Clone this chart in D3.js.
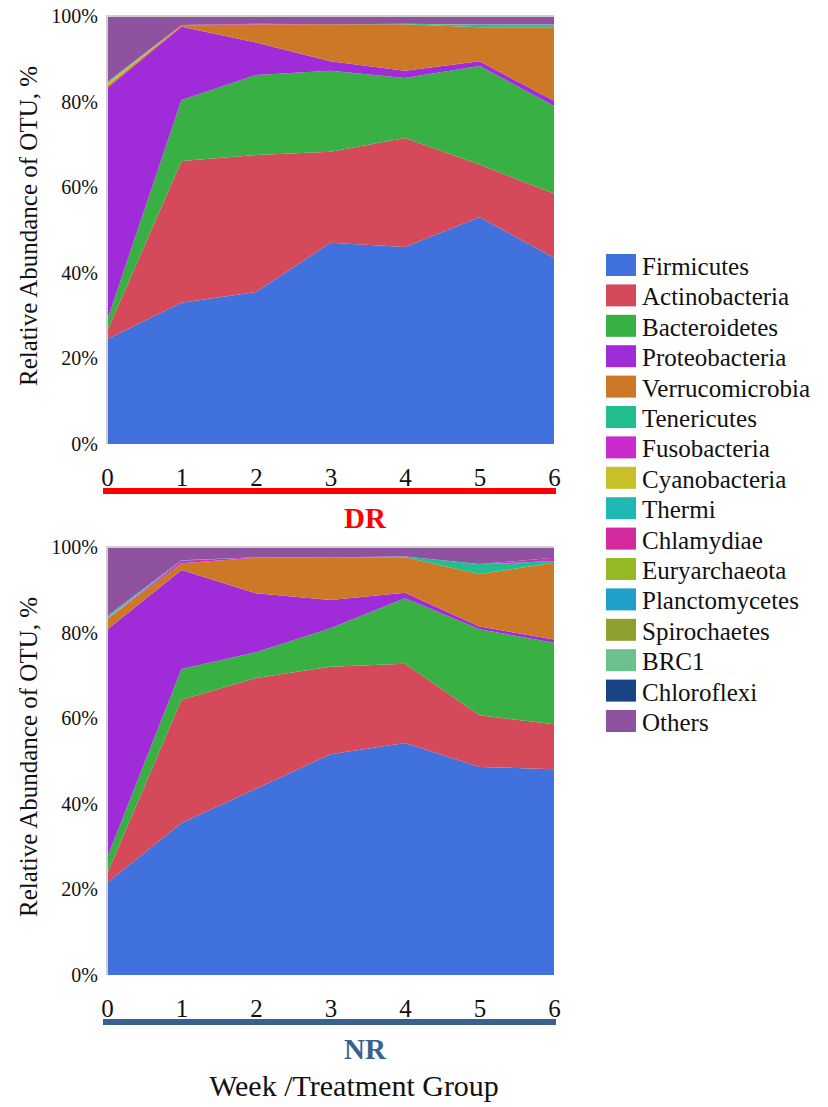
<!DOCTYPE html>
<html>
<head>
<meta charset="utf-8">
<script src="https://cdn.jsdelivr.net/npm/d3@7"></script>
<style>
  body { margin: 0; background: #fff; }
  svg text { font-family: 'Liberation Serif', 'DejaVu Serif', 'Times New Roman', Times, serif; }
</style>
</head>
<body>
<svg id="chart" width="828" height="1107"></svg>
<script>
// weeks on the x axis
const weeks = [0, 1, 2, 3, 4, 5, 6];

const phyla = ["Firmicutes", "Actinobacteria", "Bacteroidetes", "Proteobacteria", "Verrucomicrobia",
    "Tenericutes", "Fusobacteria", "Cyanobacteria", "Thermi", "Chlamydiae", "Euryarchaeota",
    "Planctomycetes", "Spirochaetes", "BRC1", "Chloroflexi", "Others"];

const phylumColors = ["#4171dd", "#d54a5a", "#38b044", "#a02cd9", "#cd7826",
    "#22be90", "#c92bcc", "#c8c028", "#20b8b5", "#d52a9d", "#93b924",
    "#219fcb", "#8da030", "#6bc08e", "#1a4385", "#8e529f"];

// relative abundance (%) per phylum, one row per phylum in the order above, one value per week
const drValues = [
    [24.5, 33.0, 35.5, 47.0, 46.0, 53.0, 43.5],
    [1.8, 33.1, 32.0, 21.3, 25.5, 12.3, 15.0],
    [2.5, 14.3, 18.7, 18.9, 14.0, 23.0, 20.5],
    [54.3, 17.1, 7.6, 2.2, 1.7, 1.1, 1.2],
    [0.5, 0.3, 4.2, 8.7, 10.9, 8.0, 17.2],
    [0, 0, 0, 0, 0.1, 0.5, 0.4],
    [0, 0, 0.1, 0, 0, 0, 0],
    [0.4, 0, 0, 0, 0, 0, 0],
    [0.1, 0, 0, 0, 0, 0, 0],
    [0, 0.1, 0.1, 0, 0, 0, 0.1],
    [0.3, 0, 0, 0, 0, 0, 0],
    [0.1, 0, 0, 0, 0, 0, 0],
    [0, 0, 0, 0, 0, 0, 0],
    [0, 0, 0, 0, 0, 0.1, 0.1],
    [0, 0, 0, 0, 0, 0, 0],
    [15.5, 2.1, 1.8, 1.9, 1.8, 2.0, 2.0]
];

const nrValues = [
    [21.5, 35.5, 43.5, 51.6, 54.2, 48.6, 48.1],
    [2.1, 28.8, 25.9, 20.4, 18.5, 12.1, 10.5],
    [3.7, 7.2, 6.0, 9.0, 15.3, 20.1, 19.0],
    [53.3, 23.1, 13.8, 6.6, 1.3, 0.6, 0.8],
    [2.5, 1.6, 8.3, 10.0, 8.3, 12.3, 17.9],
    [0, 0, 0, 0, 0.2, 2.3, 0.4],
    [0, 0.6, 0.1, 0, 0, 0, 0.8],
    [0.1, 0, 0, 0, 0, 0, 0],
    [0.3, 0, 0, 0, 0, 0, 0],
    [0, 0, 0, 0, 0, 0, 0],
    [0, 0, 0, 0, 0, 0, 0],
    [0.3, 0.1, 0, 0, 0, 0, 0],
    [0, 0, 0, 0, 0, 0, 0],
    [0, 0, 0, 0, 0, 0, 0],
    [0, 0, 0, 0, 0, 0, 0],
    [16.1, 3.1, 2.4, 2.4, 2.2, 4.0, 2.5]
];

const yTicks = [0, 0.2, 0.4, 0.6, 0.8, 1];

const serif = "'Liberation Serif', 'DejaVu Serif', 'Times New Roman', Times, serif";
const svg = d3.select('#chart');
const left = 107, right = 554;

const xScale = d3.scaleLinear().domain([0, 6]).range([left, right]);
const color = d3.scaleOrdinal().domain(phyla).range(phylumColors);

function drawPanel(values, top, bottom, groupLabel, groupColor) {
    const g = svg.append('g');
    const yScale = d3.scaleLinear().domain([0, 1]).range([bottom, top]);

    // rows -> one record per week
    const rows = weeks.map((w, i) => {
        const r = { week: w };
        phyla.forEach((p, j) => { r[p] = values[j][i]; });
        return r;
    });
    const series = d3.stack().keys(phyla).offset(d3.stackOffsetExpand)(rows);

    const area = d3.area()
        .x(d => xScale(d.data.week))
        .y0(d => yScale(d[0]))
        .y1(d => yScale(d[1]));

    g.append('g')
        .selectAll('path')
        .data(series)
        .join('path')
        .attr('fill', d => color(d.key))
        .attr('d', area);

    // light frame on the left and top
    g.append('path')
        .attr('d', `M${left},${bottom}V${top}H${right}`)
        .attr('fill', 'none')
        .attr('stroke', '#cfcfcf')
        .attr('stroke-width', 2);

    const yAxis = g.append('g')
        .attr('transform', `translate(${left}, 0)`)
        .call(d3.axisLeft(yScale).tickValues(yTicks).tickFormat(d3.format('.0%')).tickSize(0).tickPadding(9))
        .attr('font-family', serif)
        .attr('font-size', 20);
    yAxis.select('.domain').remove();
    yAxis.selectAll('text').attr('fill', '#111');

    const xAxis = g.append('g')
        .attr('transform', `translate(0, ${bottom})`)
        .call(d3.axisBottom(xScale).tickValues(weeks).tickFormat(d3.format('d')).tickSize(0).tickPadding(24))
        .attr('font-family', serif)
        .attr('font-size', 25);
    xAxis.select('.domain').remove();
    xAxis.selectAll('text').attr('fill', '#111');

    // group bar under the axis
    g.append('line')
        .attr('x1', left - 4)
        .attr('x2', right + 2)
        .attr('y1', bottom + 47)
        .attr('y2', bottom + 47)
        .attr('stroke', groupColor)
        .attr('stroke-width', 6);

    g.append('text')
        .attr('x', 365)
        .attr('y', bottom + 84)
        .attr('text-anchor', 'middle')
        .attr('font-family', serif)
        .attr('font-size', 29)
        .attr('font-weight', 'bold')
        .attr('fill', groupColor)
        .text(groupLabel);

    g.append('text')
        .attr('transform', `translate(37, ${(top + bottom) / 2 - 4}) rotate(-90)`)
        .attr('text-anchor', 'middle')
        .attr('font-family', serif)
        .attr('font-size', 25)
        .attr('fill', '#111')
        .text('Relative Abundance of OTU, %');
}

drawPanel(drValues, 16, 444, 'DR', '#ff0000');
drawPanel(nrValues, 547, 975, 'NR', '#38618f');

svg.append('text')
    .attr('x', 354)
    .attr('y', 1096)
    .attr('text-anchor', 'middle')
    .attr('font-family', serif)
    .attr('font-size', 30)
    .attr('fill', '#111')
    .text('Week /Treatment Group');

// legend
const legend = svg.append('g').attr('transform', 'translate(606, 254)');
phyla.forEach((p, i) => {
    legend.append('rect')
        .attr('x', 0)
        .attr('y', i * 30.4)
        .attr('width', 30)
        .attr('height', 22)
        .attr('fill', color(p));
    legend.append('text')
        .attr('x', 36)
        .attr('y', i * 30.4 + 21)
        .attr('font-family', serif)
        .attr('font-size', 25)
        .attr('fill', '#111')
        .text(p);
});
</script>
</body>
</html>
